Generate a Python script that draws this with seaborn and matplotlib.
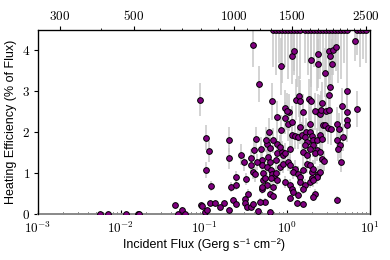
import numpy as np
import pandas as pd
import matplotlib
matplotlib.use("Agg")
import matplotlib.pyplot as plt
import seaborn as sns
from matplotlib.ticker import FixedLocator, FuncFormatter, NullFormatter, LogLocator

# ---- data ----
log_flux = [
    -2.25, -2.16, -1.94, -1.80, -1.78, -1.35, -1.31, -1.26, -1.23, -1.04,
    -1.02, -0.99, -0.96, -0.93, -0.98,
    -0.97, -0.94, -0.91, -0.70, -0.70, -0.55, -0.52, -0.67, -0.61, -0.61,
    -0.49, -0.43, -0.43, -0.40, -0.37, -0.31, -0.30, -0.30, -0.36, -0.41,
    -0.38, -0.29, -0.24, -0.25, -0.22, -0.20, -0.23, -0.20, -0.24, -0.19,
    -0.18, -0.16, -0.29, -0.27, -0.19, -0.12, -0.12, -0.12, -0.13, -0.13,
    -0.12, -0.24, -0.17, -0.30, -0.30, -0.21, -0.26, -0.47, -0.51, -0.51,
    -0.48, -0.43, -0.41, -0.65, -0.62, -0.70, -0.76, -0.81, -0.87, -0.33,
    -0.35, -0.21,
    -0.024, 0.028, 0.016, 0.056, -0.076, 0.157, 0.197, 0.277, 0.377, 0.397,
    0.430, 0.458, 0.498, 0.526, 0.598, 0.630, 0.719, 0.727, 0.727,
    0.056, 0.096, 0.136, 0.177, 0.229, 0.277, 0.217, 0.237, 0.297, 0.317,
    0.357, 0.397, 0.418, 0.317, 0.217, 0.277, 0.197, 0.237, 0.357, 0.337,
    0.418, 0.446, 0.397, 0.598, 0.638, 0.671, 0.618, 0.646, -0.084, -0.044,
    0.016, 0.036, 0.096, 0.076, 0.136, 0.157, 0.197, 0.237, 0.277, 0.297,
    0.317, 0.377, 0.397, 0.357, -0.024, 0.036, 0.056, 0.076, 0.157, 0.217,
    0.197, 0.277, 0.297, 0.317, 0.136, 0.036, 0.116, 0.197, 0.337, 0.317,
    0.598, -0.165, -0.064, -0.044, -0.024, 0.036, -0.084, -0.165,
    -1.05, -0.41, -0.34, -0.18, -0.07, -0.02, 0.00, 0.06, 0.08, 0.11,
    0.14, 0.16, 0.26, 0.29, 0.29, 0.37, 0.37, 0.34, 0.41, 0.42,
    0.46, 0.47, 0.50, 0.51, 0.51, 0.52, 0.52, 0.54, 0.56, 0.59,
    0.66, 0.72, 0.82, 0.84,
    -0.17, -0.13, -0.10, -0.06, -0.02, 0.01, 0.05, 0.08, 0.12, 0.16,
    0.22, 0.25, 0.29, 0.33, 0.36, 0.40, 0.43, 0.47, 0.51, 0.54,
    0.58, 0.61, 0.65, 0.69, 0.72, 0.84, 0.88, 0.92, 0.95,
]

efficiency = [
    0.00, 0.00, 0.00, 0.00, 0.00, 0.22, 0.00, 0.11, 0.00, 0.22,
    0.19, 0.04, 0.11, 0.26, 1.07,
    1.87, 1.53, 0.68, 1.82, 1.36, 1.45, 1.26, 0.66, 0.70, 0.91,
    0.85, 1.20, 1.37, 1.56, 1.83, 1.60, 1.31, 1.19, 1.27, 1.03,
    0.97, 1.00, 1.72, 1.82, 2.00, 1.62, 1.39, 1.27, 1.15, 1.07,
    0.99, 0.91, 0.83, 0.87, 0.87, 2.37, 1.72, 1.48, 1.31, 1.00,
    0.83, 0.71, 0.66, 0.60, 0.66, 0.50, 0.30, 0.50, 0.36, 0.28,
    0.18, 0.18, 0.24, 0.34, 0.24, 0.11, 0.26, 0.16, 0.26, 0.30,
    0.07, 0.06,
    2.35, 2.49, 2.19, 2.25, 2.06, 2.12, 2.49, 2.21, 2.49, 2.45,
    2.17, 2.17, 2.11, 2.08, 2.21, 2.07, 2.49, 2.30, 2.17,
    1.92, 1.90, 1.88, 1.92, 2.00, 2.00, 1.88, 1.76, 1.90, 1.80,
    1.80, 1.92, 1.84, 1.68, 1.68, 1.60, 1.52, 1.44, 1.56, 1.48,
    1.35, 1.29, 1.52, 1.80, 1.68, 1.88, 1.60, 1.27, 1.15, 1.23,
    1.27, 1.19, 1.11, 1.03, 0.99, 0.91, 1.07, 1.23, 1.19, 1.03,
    1.11, 0.99, 1.03, 0.91, 0.79, 0.71, 0.62, 0.54, 0.79, 0.71,
    0.62, 0.79, 0.87, 0.83, 0.46, 0.38, 0.26, 0.24, 0.50, 0.42,
    0.34, 0.44, 1.52, 1.44, 1.48, 1.60, 1.64, 1.80,
    2.80, 4.14, 3.18, 2.76, 3.61, 2.59, 2.51, 3.87, 3.99, 2.79,
    2.88, 2.77, 2.81, 3.76, 2.77, 3.91, 3.67, 2.51, 2.55, 2.72,
    3.46, 2.51, 3.99, 2.55, 2.92, 3.11, 3.87, 3.68, 4.01, 4.09,
    2.64, 3.00, 4.23, 2.57,
    4.5, 4.5, 4.5, 4.5, 4.5, 4.5, 4.5, 4.5, 4.5, 4.5,
    4.5, 4.5, 4.5, 4.5, 4.5, 4.5, 4.5, 4.5, 4.5, 4.5,
    4.5, 4.5, 4.5, 4.5, 4.5, 4.5, 4.5, 4.5, 4.5,
]

efficiency_err = [
    0.03, 0.03, 0.03, 0.03, 0.03, 0.06, 0.03, 0.05, 0.03, 0.06,
    0.06, 0.04, 0.05, 0.07, 0.20,
    0.30, 0.25, 0.12, 0.30, 0.25, 0.25, 0.20, 0.12, 0.12, 0.15,
    0.15, 0.20, 0.22, 0.25, 0.30, 0.28, 0.22, 0.20, 0.20, 0.18,
    0.18, 0.18, 0.30, 0.30, 0.35, 0.30, 0.25, 0.22, 0.20, 0.20,
    0.18, 0.16, 0.15, 0.15, 0.15, 0.40, 0.30, 0.26, 0.24, 0.18,
    0.15, 0.12, 0.12, 0.10, 0.12, 0.10, 0.08, 0.10, 0.08, 0.07,
    0.06, 0.06, 0.07, 0.08, 0.07, 0.05, 0.07, 0.06, 0.07, 0.08,
    0.04, 0.04,
    0.40, 0.45, 0.40, 0.40, 0.35, 0.40, 0.45, 0.40, 0.45, 0.45,
    0.40, 0.40, 0.40, 0.40, 0.40, 0.40, 0.45, 0.40, 0.40,
    0.30, 0.30, 0.30, 0.32, 0.35, 0.35, 0.30, 0.30, 0.32, 0.30,
    0.30, 0.32, 0.30, 0.28, 0.28, 0.28, 0.26, 0.25, 0.27, 0.26,
    0.25, 0.24, 0.27, 0.32, 0.30, 0.33, 0.30, 0.25, 0.20, 0.22,
    0.22, 0.20, 0.20, 0.18, 0.18, 0.17, 0.20, 0.22, 0.21, 0.19,
    0.20, 0.19, 0.19, 0.17, 0.15, 0.14, 0.12, 0.11, 0.15, 0.14,
    0.12, 0.15, 0.16, 0.16, 0.10, 0.09, 0.07, 0.07, 0.11, 0.10,
    0.09, 0.10, 0.26, 0.25, 0.26, 0.28, 0.28, 0.30,
    0.40, 0.55, 0.45, 0.45, 0.70, 0.45, 0.45, 0.70, 0.60, 0.50,
    0.50, 0.50, 0.50, 0.65, 0.50, 0.60, 0.60, 0.45, 0.45, 0.50,
    0.60, 0.45, 0.60, 0.45, 0.50, 0.55, 0.60, 0.60, 0.60, 0.60,
    0.45, 0.50, 0.50, 0.45,
    0.9, 1.1, 0.8, 1.3, 0.9, 1.2, 0.7, 1.0, 1.4, 1.2,
    0.8, 1.1, 1.3, 0.9, 1.5, 1.2, 1.0, 1.4, 1.6, 1.1,
    0.9, 1.3, 1.2, 0.8, 1.0, 0.6, 0.9, 0.7, 0.8,
]

flux_limits = [1e-3, 1e1]
temp_major = [300, 500, 1000, 1500, 2500]
temp_minor = [400, 600, 700, 800, 900, 1100, 1200, 1300, 1400,
              1600, 1700, 1800, 1900, 2000, 2100, 2200, 2300, 2400]

# ---- style ----
sns.set_style("ticks")
plt.rcParams["font.family"] = ["Liberation Sans", "DejaVu Sans"]
plt.rcParams["mathtext.fontset"] = "cm"
plt.rcParams["text.color"] = "black"
plt.rcParams["axes.labelcolor"] = "black"
plt.rcParams["xtick.color"] = "black"
plt.rcParams["ytick.color"] = "black"
plt.rcParams["axes.edgecolor"] = "black"

df = pd.DataFrame({
    "flux": 10 ** np.array(log_flux),
    "eff": efficiency,
    "err": efficiency_err,
})

fig = plt.figure(figsize=(3.9, 2.6), dpi=100)
ax = fig.add_axes([38 / 390, 46 / 260, 332 / 390, 184 / 260])

ax.errorbar(df["flux"], df["eff"], yerr=df["err"], fmt="none",
            ecolor="#c8c8c8", elinewidth=1.1, capsize=0, zorder=1)
sns.scatterplot(data=df, x="flux", y="eff", ax=ax, color="#800080",
                edgecolor="black", linewidth=0.7, s=17, zorder=3, legend=False)

ax.set_xscale("log")
ax.set_xlim(*flux_limits)
ax.set_ylim(0, 4.5)
ax.xaxis.set_major_locator(LogLocator(base=10))
ax.xaxis.set_major_formatter(FuncFormatter(lambda v, p: r"$\mathrm{10^{%d}}$" % round(np.log10(v))))
ax.yaxis.set_major_locator(FixedLocator([0, 1, 2, 3, 4]))
ax.yaxis.set_major_formatter(FuncFormatter(lambda v, p: r"$\mathrm{%d}$" % v))
ax.tick_params(axis="both", which="major", labelsize=9.5, length=3, width=0.8)
ax.tick_params(axis="y", which="major", pad=2.5)
ax.tick_params(axis="x", which="both", direction="in", pad=5)
ax.tick_params(axis="x", which="minor", length=1.8, width=0.6)
ax.spines["bottom"].set_color("#888888")
ax.spines["bottom"].set_linewidth(1.4)
for s in ["left", "right", "top"]:
    ax.spines[s].set_linewidth(0.9)

ax.set_xlabel("Incident Flux (Gerg s\u207b\u00b9 cm\u207b\u00b2)", fontsize=9, labelpad=1.5)
ax.set_ylabel("Heating Efficiency (% of Flux)", fontsize=9, labelpad=3.5)

# top axis: equilibrium temperature, F = 4 sigma T^4
sigma_gerg = 5.670e-5 / 1e9
def flux_to_temp(f):
    return (np.asarray(f) / (4 * sigma_gerg)) ** 0.25

ax2 = ax.twiny()
ax2.set_xscale("log")
ax2.set_xlim(flux_to_temp(flux_limits[0]), flux_to_temp(flux_limits[1]))
ax2.xaxis.set_major_locator(FixedLocator(temp_major))
ax2.xaxis.set_major_formatter(FuncFormatter(lambda v, p: r"$\mathrm{%d}$" % v))
ax2.xaxis.set_minor_locator(FixedLocator(temp_minor))
ax2.xaxis.set_minor_formatter(NullFormatter())
ax2.tick_params(axis="x", which="major", labelsize=9.5, length=3, width=0.8, pad=2, direction="out")
ax2.tick_params(axis="x", which="minor", length=1.8, width=0.6, direction="out")
ax2.spines["bottom"].set_visible(False)

fig.savefig("out.png", dpi=100)
